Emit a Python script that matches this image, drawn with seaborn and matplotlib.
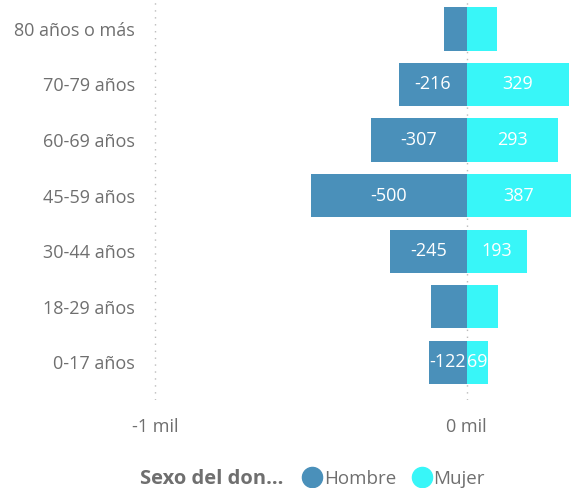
import pandas as pd
import matplotlib
matplotlib.use("Agg")
import matplotlib.pyplot as plt
import seaborn as sns
from matplotlib.lines import Line2D

# datos (donantes por grupo de edad y sexo)
grupos = ["80 años o más", "70-79 años", "60-69 años", "45-59 años",
          "30-44 años", "18-29 años", "0-17 años"]
hombre = [-74, -216, -307, -500, -245, -113, -122]
mujer = [98, 329, 293, 387, 193, 100, 69]
mostrar_etiqueta = [False, True, True, True, True, False, True]

color_hombre = "#4A90BA"
color_mujer = "#38F6F8"
gris = "#6F6F6F"

df = pd.concat([
    pd.DataFrame({"grupo": grupos, "valor": hombre, "sexo": "Hombre"}),
    pd.DataFrame({"grupo": grupos, "valor": mujer, "sexo": "Mujer"}),
])

sns.set_style("white")
plt.rcParams["font.family"] = ["Open Sans", "DejaVu Sans"]

fig = plt.figure(figsize=(5.71, 4.88), dpi=100)
ax = fig.add_axes([0.25, 0.18, 0.75, 0.82])

sns.barplot(data=df, y="grupo", x="valor", hue="sexo", order=grupos,
            palette={"Hombre": color_hombre, "Mujer": color_mujer},
            dodge=False, width=0.78, orient="h", ax=ax, legend=False,
            saturation=1, edgecolor="none", linewidth=0)

for cont in ax.containers:
    etiquetas = [f"{v:.0f}" if m else "" for v, m in zip(cont.datavalues, mostrar_etiqueta)]
    ax.bar_label(cont, labels=etiquetas, label_type="center", color="white", fontsize=13)

ax.set_xlim(-1039, 335)
ax.set_ylim(6.68, -0.52)
ax.set_xticks([-1000, 0])
ax.set_xticklabels(["-1 mil", "0 mil"])
for x in [-1000, 0]:
    ax.axvline(x, color="#BBBBBB", linestyle=(0, (1, 4)), linewidth=1, zorder=0)

ax.set_xlabel("")
ax.set_ylabel("")
ax.tick_params(axis="x", length=0, pad=13, labelsize=13, labelcolor=gris)
ax.tick_params(axis="y", length=0, pad=5.5, labelsize=13, labelcolor=gris)
sns.despine(ax=ax, left=True, bottom=True)

fig.text(0.245, -0.002, "Sexo del don...", color=gris, fontsize=14.5,
         fontweight="bold", ha="left", va="bottom")
handles = [
    Line2D([], [], marker="o", linestyle="", markersize=14.5, color=color_hombre, label="Hombre"),
    Line2D([], [], marker="o", linestyle="", markersize=14.5, color=color_mujer, label="Mujer"),
]
leg = fig.legend(handles=handles, loc="lower left", bbox_to_anchor=(0.498, -0.034),
                 ncol=2, frameon=False, fontsize=13.5, handletextpad=0.0,
                 columnspacing=0.8, handlelength=1.2)
for t in leg.get_texts():
    t.set_color(gris)

fig.savefig("out.png", dpi=100)
